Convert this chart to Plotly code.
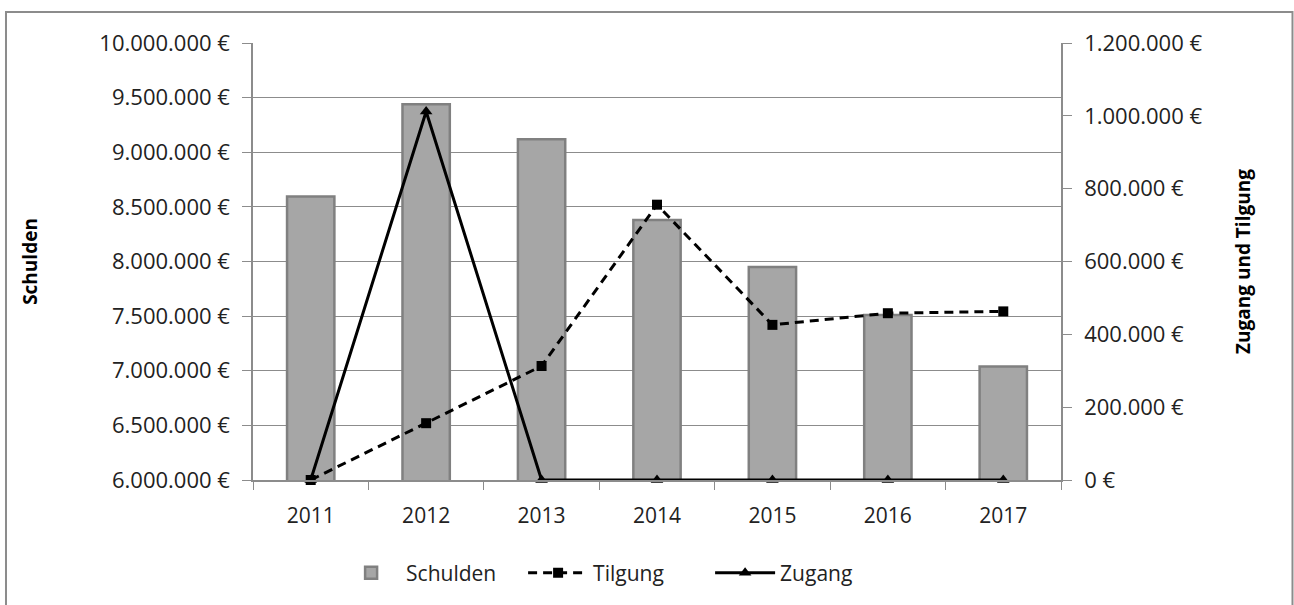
import plotly.graph_objects as go

# data
years = ["2011", "2012", "2013", "2014", "2015", "2016", "2017"]
schulden = [8595000, 9440000, 9120000, 8380000, 7950000, 7510000, 7040000]
tilgung = [0, 156000, 313000, 756000, 426000, 458000, 463000]
zugang = [0, 1012000, 0, 0, 0, 0, 0]

left_ticks = [6000000, 6500000, 7000000, 7500000, 8000000, 8500000, 9000000, 9500000, 10000000]
right_ticks = [0, 200000, 400000, 600000, 800000, 1000000, 1200000]


def euro(v):
    return f"{v:,.0f}".replace(",", ".") + " \u20ac"


FONT = "Open Sans, Noto Sans, sans-serif"
GRID = "#8c8c8c"

fig = go.Figure()

fig.add_trace(go.Bar(
    x=years, y=schulden, name="Schulden",
    marker=dict(color="#a6a6a6", line=dict(color="#808080", width=2.5)),
    width=0.41,
))
fig.add_trace(go.Scatter(
    x=years, y=tilgung, name="Tilgung", yaxis="y2", mode="lines+markers",
    line=dict(color="black", width=3, dash="9px,6px"),
    marker=dict(symbol="square", size=10, color="black"),
    cliponaxis=False,
))
fig.add_trace(go.Scatter(
    x=years, y=zugang, name="Zugang", yaxis="y2", mode="lines+markers",
    line=dict(color="black", width=3),
    marker=dict(symbol="triangle-up", size=11, color="black"),
    cliponaxis=False,
))

# outer chart border
fig.add_shape(type="rect", xref="paper", yref="paper",
              x0=-0.3057, x1=1.2865, y0=-0.29, y1=1.071,
              line=dict(color="#8c8c8c", width=2), layer="below")

fig.update_layout(
    width=1294, height=605,
    margin=dict(l=253, r=233, t=43, b=125, autoexpand=False),
    paper_bgcolor="white", plot_bgcolor="white",
    font=dict(family=FONT, size=22, color="#222222"),
    showlegend=True,
    legend=dict(orientation="h", x=0.45, xanchor="center", y=-0.213, yanchor="middle",
                font=dict(size=21), traceorder="normal",
                itemwidth=60, entrywidth=112, entrywidthmode="pixels"),
    bargap=0.59,
    xaxis=dict(
        showline=True, linecolor=GRID, linewidth=1.5,
        ticks="outside", ticklen=8, tickcolor=GRID, tickson="boundaries",
        showgrid=False, tickfont=dict(size=21), automargin=False,
        ticklabelstandoff=16,
    ),
    yaxis=dict(
        range=[6000000, 10000000], tickvals=left_ticks,
        ticktext=[euro(v) for v in left_ticks],
        showline=True, linecolor=GRID, linewidth=1.5,
        ticks="outside", ticklen=9, tickcolor=GRID,
        showgrid=True, gridcolor=GRID, gridwidth=1.2,
        zeroline=False, ticklabelstandoff=8, automargin=False,
        title=dict(text="<b>Schulden</b>", font=dict(size=19, color="black"), standoff=57),
    ),
    yaxis2=dict(
        range=[0, 1200000], tickvals=right_ticks,
        ticktext=[euro(v) for v in right_ticks],
        overlaying="y", side="right",
        showline=True, linecolor=GRID, linewidth=1.5,
        ticks="outside", ticklen=9, tickcolor=GRID,
        showgrid=False, zeroline=False, ticklabelstandoff=8, automargin=False,
        title=dict(text="<b>Zugang und Tilgung</b>", font=dict(size=19, color="black"), standoff=35),
    ),
)

fig.write_html("out.html", config={"displayModeBar": False},
               post_script="document.body.style.margin='0px';")
